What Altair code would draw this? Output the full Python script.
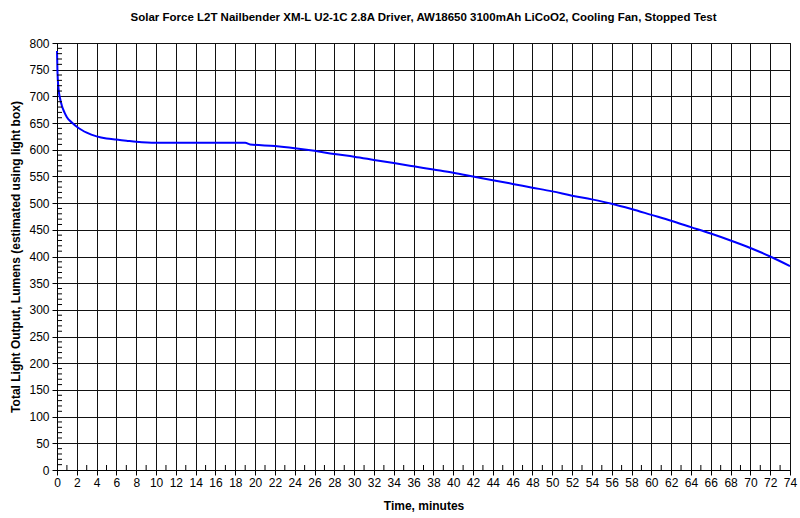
import altair as alt
import pandas as pd

minutes = [0, 0.05, 0.15, 0.3, 0.5, 0.75, 1, 1.5, 2, 2.5, 3, 4, 5, 6, 7, 8, 10, 12, 15, 19, 19.5,
           22, 24, 26, 28, 30, 32, 34, 36, 38, 40, 42, 44, 46, 48, 50, 52, 54, 56, 58, 60,
           62, 64, 66, 68, 70, 72, 74]
lumens = [785, 745, 715, 697, 682, 670, 661, 651, 643, 637, 632, 625, 621, 619, 617, 615, 613, 613, 613, 613, 610,
          607, 603, 598, 592, 587, 581, 575, 569, 563, 557, 550, 543, 536, 529, 522, 514, 507, 499, 489, 478,
          467, 455, 443, 430, 416, 400, 382]

x_ticks = list(range(0, 75, 2))
y_ticks = list(range(0, 801, 50))
x_minor = list(range(1, 74, 2))
y_minor = [v for v in range(0, 801, 10) if v % 50 != 0]

df = pd.DataFrame({"t": minutes, "lm": lumens})

xs = alt.Scale(domain=[0, 74], nice=False)
ys = alt.Scale(domain=[0, 800], nice=False)

xaxis = alt.Axis(values=x_ticks, title="Time, minutes", grid=True, gridColor="#111111",
                 gridOpacity=1, gridWidth=1, domainColor="#000000", tickColor="#000000",
                 tickSize=5, labelFont="Liberation Sans", labelFontSize=12, labelColor="#000000",
                 labelPadding=2, labelOverlap=False, labelFlush=False, labelBound=False,
                 titleFont="Liberation Sans", titleFontSize=12,
                 titleFontWeight="bold", titleColor="#000000", titlePadding=12)
yaxis = alt.Axis(values=y_ticks, title="Total Light Output, Lumens (estimated using light box)",
                 grid=True, gridColor="#111111", gridOpacity=1, gridWidth=1,
                 domainColor="#000000", tickColor="#000000", tickSize=5,
                 labelFont="Liberation Sans", labelFontSize=12, labelColor="#000000",
                 labelPadding=3, labelOverlap=False, labelFlush=False, labelBound=False,
                 titleFont="Liberation Sans", titleFontSize=12,
                 titleFontWeight="bold", titleColor="#000000", titlePadding=6)

line = alt.Chart(df).mark_line(color="#0000FF", strokeWidth=2, interpolate="monotone").encode(
    x=alt.X("t:Q", scale=xs, axis=xaxis),
    y=alt.Y("lm:Q", scale=ys, axis=yaxis),
)

xminor = alt.Chart(pd.DataFrame({"t": x_minor})).mark_rule(color="#000000").encode(
    x=alt.X("t:Q", scale=xs, axis=xaxis),
    y=alt.value(427), y2=alt.value(422))

yminor = alt.Chart(pd.DataFrame({"lm": y_minor})).mark_rule(color="#000000").encode(
    y=alt.Y("lm:Q", scale=ys, axis=yaxis),
    x=alt.value(0), x2=alt.value(5))

chart = alt.layer(line, xminor, yminor).properties(
    width=733, height=427,
    title=alt.TitleParams("Solar Force L2T Nailbender XM-L U2-1C  2.8A Driver, AW18650  3100mAh  LiCoO2, Cooling Fan, Stopped Test",
                          font="Liberation Sans", fontSize=11.5, fontWeight="bold", color="#000000",
                          anchor="middle", offset=14),
    autosize=alt.AutoSizeParams(type="none"),
    padding={"left": 57, "top": 43, "right": 10, "bottom": 48},
    background="#ffffff",
).configure_view(stroke="#000000", strokeWidth=1)

chart.save("out.html", embed_options={"renderer": "svg", "actions": False})
